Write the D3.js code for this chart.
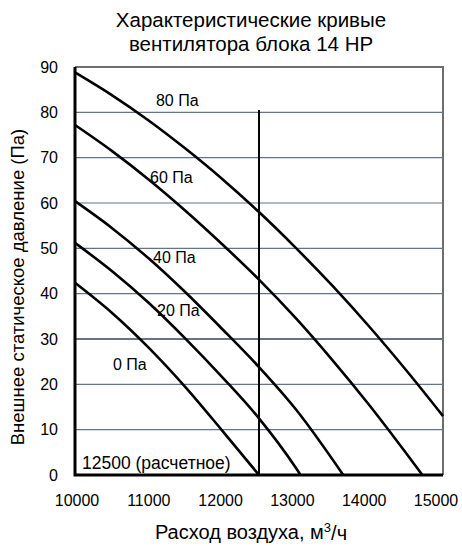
<!DOCTYPE html>
<html lang="ru">
<head>
<meta charset="UTF-8">
<title>Характеристические кривые вентилятора</title>
<script src="https://d3js.org/d3.v7.min.js"></script>
<style>
    body { margin: 0; background: #fff; }
    text { font-family: "Liberation Sans", Arial, sans-serif; fill: #000; }
</style>
</head>
<body>
<svg width="462" height="546"></svg>
<script>
    // values
    const flowTicks = [10000, 11000, 12000, 13000, 14000, 15000];
    const pressureTicks = [0, 10, 20, 30, 40, 50, 60, 70, 80, 90];

    const curveNames = ["0 Па", "20 Па", "40 Па", "60 Па", "80 Па"];
    // [flow m3/h, external static pressure Pa]
    const curve0 = [[10000, 42.4], [10500, 35.8], [11000, 28.1], [11500, 19.4], [12000, 9.8], [12500, 0]];
    const curve20 = [[10000, 51.2], [10500, 45.0], [11000, 38.0], [11500, 30.1], [12000, 21.6], [12500, 12.5], [13000, 1.6], [13065, 0]];
    const curve40 = [[10000, 60.4], [10500, 54.5], [11000, 47.8], [11500, 40.3], [12000, 32.2], [12500, 23.8], [13000, 14.5], [13645, 0]];
    const curve60 = [[10000, 77.2], [10500, 71.5], [11000, 65.2], [11500, 58.3], [12000, 50.9], [12500, 43.1], [13000, 34.6], [13500, 25.3], [14000, 15.4], [14500, 4.8], [14720, 0]];
    const curve80 = [[10000, 88.8], [10500, 83.8], [11000, 78.2], [11500, 72.0], [12000, 65.3], [12500, 58.0], [13000, 50.1], [13500, 41.7], [14000, 32.7], [14500, 23.1], [15000, 13.0]];
    const curves = [curve0, curve20, curve40, curve60, curve80];

    const ratedFlow = 12500;
    const ratedLabel = "12500 (расчетное)";
    const ratedLine = [0, 80.5];

    const svg = d3.select("svg");

    const x = d3.scaleLinear().domain([10000, 15000]).range([75, 443]);
    const y = d3.scaleLinear().domain([0, 90]).range([475, 67]);
    // the tick labels sit a little to the left of the ticks in the original
    const xLabel = d3.scaleLinear().domain([10000, 15000]).range([77, 436]);

    // grid
    svg.append("g")
        .selectAll("line")
        .data(pressureTicks.filter(d => d > 0 && d < 90))
        .enter().append("line")
        .attr("x1", x(10000)).attr("x2", x(15000))
        .attr("y1", d => y(d)).attr("y2", d => y(d))
        .attr("stroke", "#64728a")
        .attr("stroke-width", d => d === 30 ? 1.8 : 1.2);

    // top and right border
    svg.append("path")
        .attr("d", `M${x(10000)},${y(90)}H${x(15000)}V${y(0)}`)
        .attr("fill", "none")
        .attr("stroke", "#6e6e6e")
        .attr("stroke-width", 2);

    // y axis labels
    svg.append("g")
        .selectAll("text")
        .data(pressureTicks)
        .enter().append("text")
        .attr("x", 58)
        .attr("y", d => y(d))
        .attr("dy", "0.35em")
        .attr("text-anchor", "end")
        .attr("font-size", 16)
        .text(d => d);

    // x axis labels
    svg.append("g")
        .selectAll("text")
        .data(flowTicks)
        .enter().append("text")
        .attr("x", d => xLabel(d))
        .attr("y", 500)
        .attr("dy", "0.35em")
        .attr("text-anchor", "middle")
        .attr("font-size", 16)
        .text(d => d);

    // fan curves
    const line = d3.line()
        .x(d => x(d[0]))
        .y(d => y(d[1]))
        .curve(d3.curveMonotoneX);

    svg.append("g")
        .selectAll("path")
        .data(curves)
        .enter().append("path")
        .attr("d", line)
        .attr("fill", "none")
        .attr("stroke", "#000")
        .attr("stroke-width", 2.6);

    // rated flow line
    svg.append("line")
        .attr("x1", x(ratedFlow)).attr("x2", x(ratedFlow))
        .attr("y1", y(ratedLine[0])).attr("y2", y(ratedLine[1]))
        .attr("stroke", "#000")
        .attr("stroke-width", 2);

    // left and bottom axis lines
    svg.append("path")
        .attr("d", `M${x(10000)},${y(90)}V${y(0)}H${x(15000)}`)
        .attr("fill", "none")
        .attr("stroke", "#000")
        .attr("stroke-width", 3);

    // curve labels (flow, pressure of the left edge of the text)
    const labelAt = [[10516, 24.5], [11114, 36.4], [11060, 47.9], [11019, 65.7], [11100, 82.7]];
    svg.append("g")
        .selectAll("text")
        .data(curveNames)
        .enter().append("text")
        .attr("x", (d, i) => x(labelAt[i][0]))
        .attr("y", (d, i) => y(labelAt[i][1]))
        .attr("dy", "0.35em")
        .attr("font-size", 16)
        .text(d => d);

    svg.append("text")
        .attr("x", x(10095))
        .attr("y", y(2.6))
        .attr("dy", "0.35em")
        .attr("font-size", 17.5)
        .text(ratedLabel);

    // titles
    const title = svg.append("text")
        .attr("text-anchor", "middle")
        .attr("font-size", 20.5);
    title.append("tspan").attr("x", 251).attr("y", 27).text("Характеристические кривые");
    title.append("tspan").attr("x", 251).attr("y", 51).text("вентилятора блока 14 HP");

    const xTitle = svg.append("text")
        .attr("x", 251)
        .attr("y", 539)
        .attr("text-anchor", "middle")
        .attr("font-size", 20);
    xTitle.append("tspan").text("Расход воздуха, м");
    xTitle.append("tspan").attr("font-size", 13).attr("dy", "-0.55em").text("3");
    xTitle.append("tspan").attr("dy", "0.42em").text("/ч");

    svg.append("text")
        .attr("transform", "translate(24,287) rotate(-90)")
        .attr("text-anchor", "middle")
        .attr("font-size", 18.5)
        .text("Внешнее статическое давление (Па)");
</script>
</body>
</html>
